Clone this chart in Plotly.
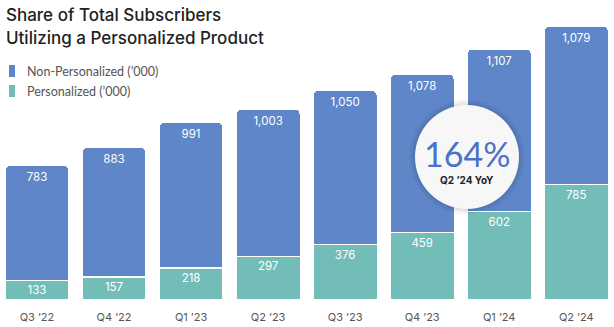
import plotly.graph_objects as go

quarters = ["Q3 ’22", "Q4 ’22", "Q1 ’23", "Q2 ’23", "Q3 ’23", "Q4 ’23", "Q1 ’24", "Q2 ’24"]
personalized = [133, 157, 218, 297, 376, 459, 602, 785]
non_personalized = [783, 883, 991, 1003, 1050, 1078, 1107, 1079]
series_names = ["Non-Personalized (’000)", "Personalized (’000)"]
title_lines = ["Share of Total Subscribers", "Utilizing a Personalized Product"]
yoy_value = "164%"
yoy_label = "Q2 ’24 YoY"

COL_NP = "#5e86c8"
COL_P = "#72bdb8"
FONT = "Inter"
TFONT = "Lato"

fig = go.Figure()
fig.add_trace(go.Bar(
    x=quarters, y=personalized, name=series_names[1],
    marker=dict(color=COL_P, line=dict(color="white", width=1.5)),
    texttemplate="%{y:,}", textposition="inside", insidetextanchor="end",
    textangle=0, constraintext="none",
    textfont=dict(color="white", size=11.5, family=FONT),
))
fig.add_trace(go.Bar(
    x=quarters, y=non_personalized, name=series_names[0],
    marker=dict(color=COL_NP, line=dict(color="white", width=1.5)),
    texttemplate="%{y:,}", textposition="inside", insidetextanchor="end",
    textangle=0, constraintext="none",
    textfont=dict(color="white", size=11.5, family=FONT),
))

# YoY circle
cx, cy = 5.582, 973
shapes = []
for r, a in [(58, 0.025), (56, 0.035), (54, 0.05)]:
    shapes.append(dict(type="circle", xref="x", yref="y", xsizemode="pixel", ysizemode="pixel",
                       xanchor=cx, yanchor=cy, x0=-r, x1=r, y0=-r, y1=r,
                       fillcolor=f"rgba(0,0,0,{a})", line=dict(width=0)))
shapes.append(dict(type="circle", xref="x", yref="y", xsizemode="pixel", ysizemode="pixel",
                   xanchor=cx, yanchor=cy, x0=-52, x1=52, y0=-52, y1=52,
                   fillcolor="#f7f7f8", line=dict(width=0)))

# legend swatches (pills)
for i, col in enumerate([COL_NP, COL_P]):
    yc = 71 + i * 20
    shapes.append(dict(type="rect", xref="paper", yref="paper",
                       x0=9 / 614, x1=15 / 614,
                       y0=(300 - (yc + 6)) / 300, y1=(300 - (yc - 6)) / 300,
                       fillcolor=col, line=dict(width=0)))

annotations = [
    dict(x=cx, y=cy, xref="x", yref="y", text=yoy_value, showarrow=False,
         yshift=3, font=dict(size=34, color="#4a72c8", family=TFONT)),
    dict(x=cx, y=cy, xref="x", yref="y", text=f"<b>{yoy_label}</b>", showarrow=False,
         yshift=-23, font=dict(size=10, color="#222", family=FONT)),
]
for i, name in enumerate(series_names):
    yc = 71 + i * 20
    annotations.append(dict(x=25 / 614, y=(300 - yc) / 300, xref="paper", yref="paper",
                            xanchor="left", yanchor="middle", text=name, showarrow=False,
                            font=dict(size=12.5, color="#555", family=TFONT)))
for i, line in enumerate(title_lines):
    yc = 15 + i * 23
    annotations.append(dict(x=4 / 614, y=(300 - yc) / 300, xref="paper", yref="paper",
                            xanchor="left", yanchor="middle", text=line, showarrow=False,
                            font=dict(size=17, color="#222", family=FONT, weight=500)))

fig.update_layout(
    width=614, height=327,
    barmode="stack", bargap=0.165, barcornerradius=5,
    showlegend=False,
    margin=dict(l=0, r=0, t=0, b=27),
    paper_bgcolor="white", plot_bgcolor="white",
    xaxis=dict(range=[-0.48, 7.49], showgrid=False, zeroline=False, showline=False,
               ticks="", ticklabelstandoff=9,
               tickfont=dict(size=11, color="#555", family=FONT)),
    yaxis=dict(range=[0, 2041], visible=False),
    shapes=shapes, annotations=annotations,
)

fig.write_html("out.html")
